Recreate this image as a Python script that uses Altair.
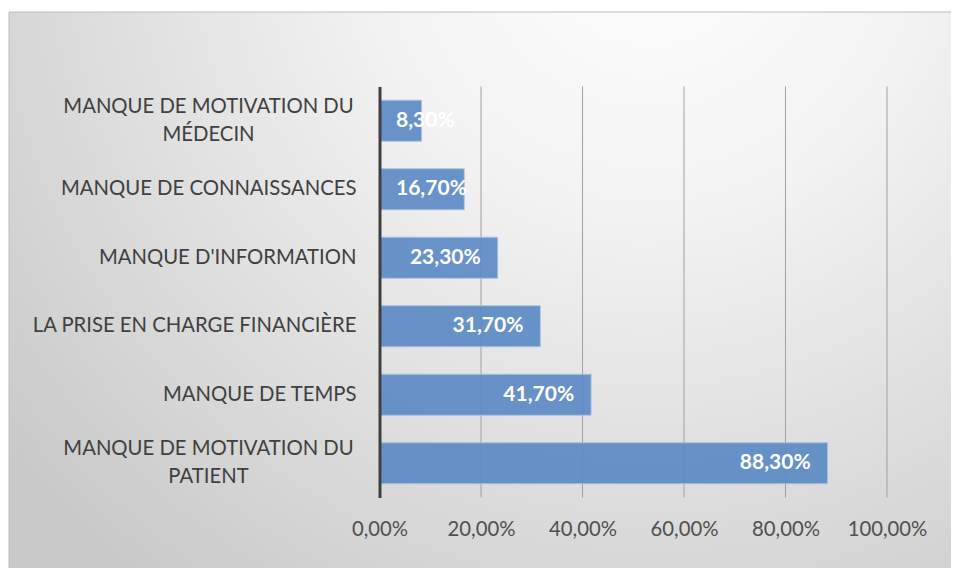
import altair as alt
import pandas as pd

categories = [
    "MANQUE DE MOTIVATION DU\nMÉDECIN",
    "MANQUE DE CONNAISSANCES",
    "MANQUE D'INFORMATION",
    "LA PRISE EN CHARGE FINANCIÈRE",
    "MANQUE DE TEMPS",
    "MANQUE DE MOTIVATION DU\nPATIENT",
]
values = [8.3, 16.7, 23.3, 31.7, 41.7, 88.3]
x_ticks = [0, 0.2, 0.4, 0.6, 0.8, 1.0]

df = pd.DataFrame({"cat": categories, "pct": [v / 100 for v in values]})
grid_df = pd.DataFrame({"g": x_ticks[1:]})

FONT = "Lato"
FS = 20.3
W, H = 507.5, 411

bg = alt.Chart(pd.DataFrame({"a": [0]})).mark_rect(
    color={
        "gradient": "radial",
        "x1": 0.66, "y1": 0.12, "r1": 0,
        "x2": 0.66, "y2": 0.12, "r2": 0.85,
        "stops": [
            {"offset": 0, "color": "#ffffff"},
            {"offset": 0.35, "color": "#f2f2f2"},
            {"offset": 1, "color": "#c9c9c9"},
        ],
    },
    stroke="#bdbdbd",
    strokeWidth=1,
).encode(
    x=alt.value(-370.5), x2=alt.value(600),
    y=alt.value(-74.5), y2=alt.value(500),
)

ysc = alt.Scale(domain=categories, paddingInner=0.4, paddingOuter=0.2)
xsc = alt.Scale(domain=[0, 1], nice=False)

grid = alt.Chart(grid_df).mark_rule(color="#a0a0a0", strokeWidth=1).encode(
    x=alt.X("g:Q", scale=xsc), y=alt.value(0), y2=alt.value(H)
)

base = alt.Chart(df)

bars = base.mark_bar(
    color="#5a89c5", opacity=0.9, stroke="#a9c1e1", strokeWidth=1
).encode(
    y=alt.Y("cat:N", scale=ysc, sort=categories,
            axis=alt.Axis(labels=False, ticks=False, title=None, grid=False,
                          domainColor="#404040", domainWidth=3, zindex=1)),
    x=alt.X("pct:Q", scale=xsc,
            axis=alt.Axis(values=x_ticks, title=None, domain=False, ticks=False,
                          grid=False, zindex=1, labelOverlap=False, labelFlush=False,
                          labelExpr="replace(format(datum.value, '.2%'), '.', ',')",
                          labelFont=FONT, labelFontSize=FS, labelColor="#505050",
                          labelPadding=22)),
)

lab_txt = "replace(format(datum.pct, '.2%'), '.', ',')"

labels_in = base.transform_filter("datum.pct >= 0.2").transform_calculate(
    t=lab_txt
).mark_text(
    align="right", baseline="middle", dx=-17, font=FONT, fontSize=21,
    fontWeight="bold", color="white"
).encode(y=alt.Y("cat:N", scale=ysc, sort=categories), x="pct:Q", text="t:N")

labels_short = base.transform_filter("datum.pct < 0.2").transform_calculate(
    t=lab_txt
).mark_text(
    align="left", baseline="middle", dx=16.5, font=FONT, fontSize=21,
    fontWeight="bold", color="white"
).encode(y=alt.Y("cat:N", scale=ysc, sort=categories), x=alt.value(0), text="t:N")

ylab_single = base.transform_filter("indexof(datum.cat, '\\n') < 0").mark_text(
    align="right", baseline="middle", font=FONT, fontSize=FS, color="#404040"
).encode(y=alt.Y("cat:N", scale=ysc, sort=categories), x=alt.value(-23), text="cat:N")

ylab_double = base.transform_filter("indexof(datum.cat, '\\n') >= 0").mark_text(
    align="center", baseline="middle", font=FONT, fontSize=FS, color="#404040",
    lineBreak="\n", lineHeight=28, dy=-14
).encode(y=alt.Y("cat:N", scale=ysc, sort=categories), x=alt.value(-171), text="cat:N")

chart = alt.layer(bg, grid, bars, labels_in, labels_short, ylab_single, ylab_double).properties(
    width=W, height=H,
    autosize=alt.AutoSizeParams(type="none"),
    padding={"left": 371.5, "top": 78.5, "right": 64, "bottom": 70.5},
    background="white",
).configure_view(stroke=None)

chart.save("out.html", embed_options={"renderer": "svg", "actions": False})
